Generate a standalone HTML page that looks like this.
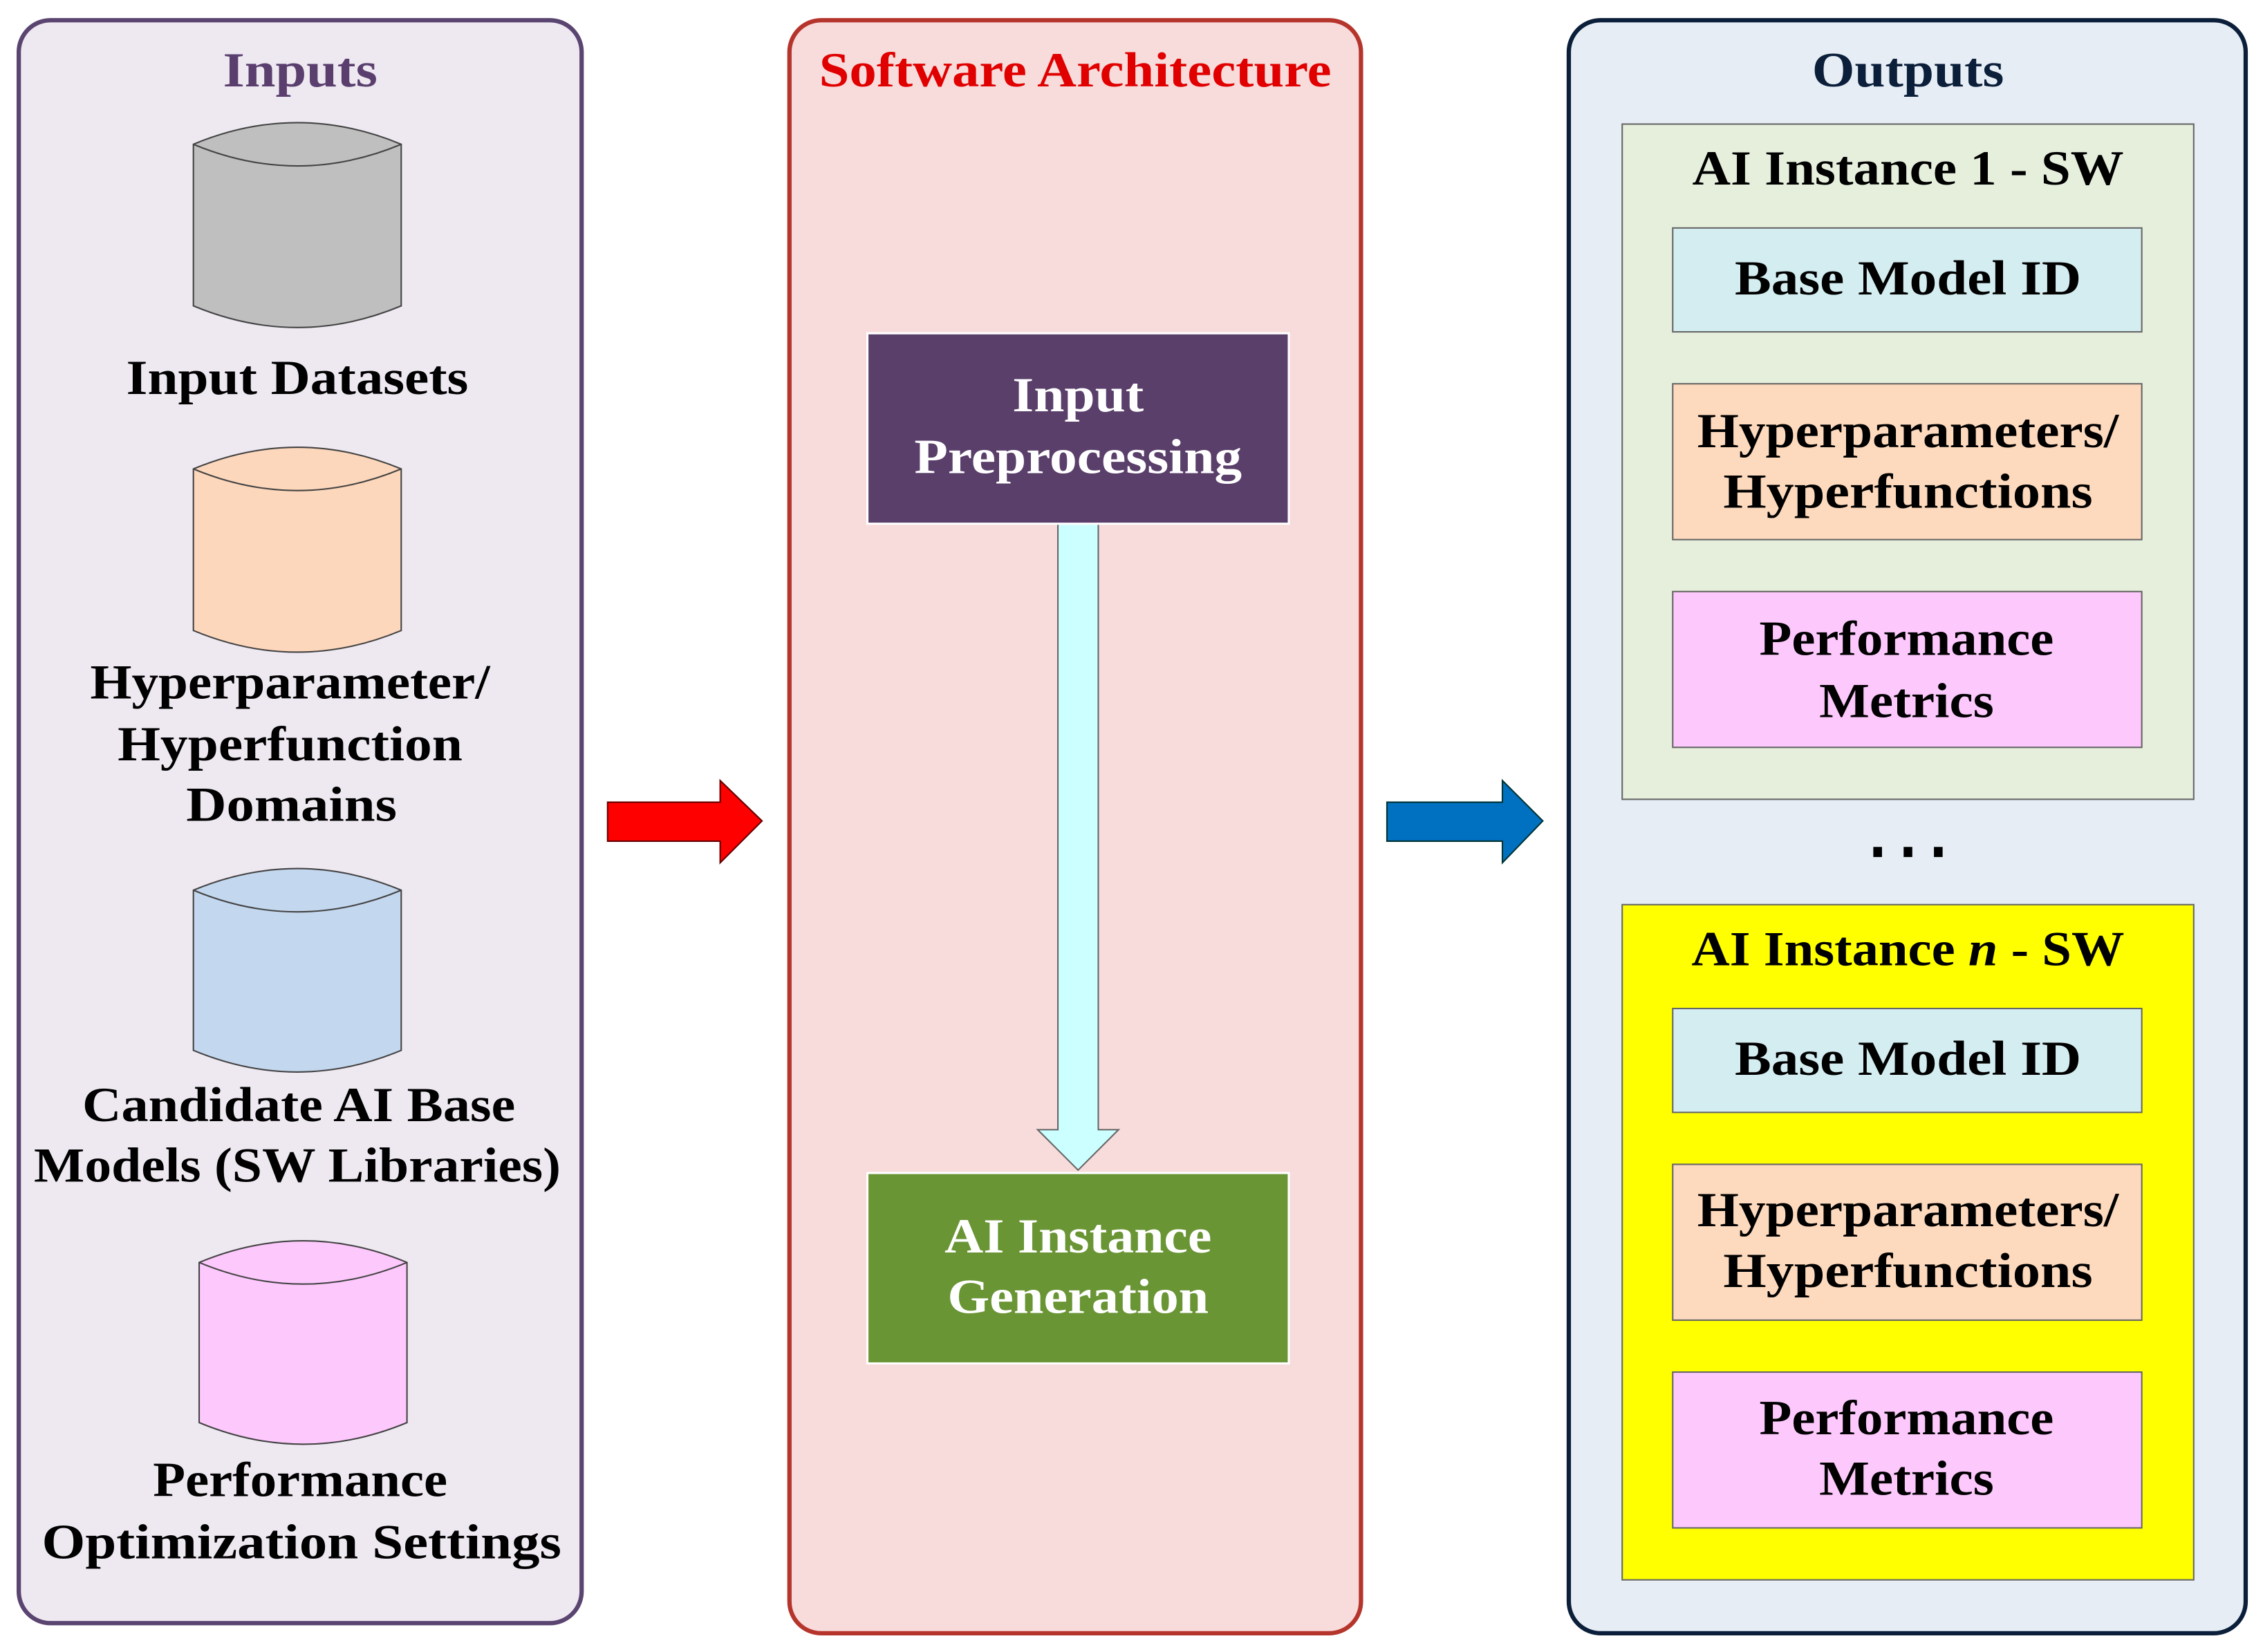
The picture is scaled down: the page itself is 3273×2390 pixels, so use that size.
<!DOCTYPE html>
<html><head><meta charset="utf-8"><style>
html,body{margin:0;padding:0;background:#fff;}
svg{display:block;}
text{font-family:"Liberation Serif",serif;font-weight:bold;font-size:34px;text-anchor:middle;}
</style></head><body>
<svg width="3273" height="2390" viewBox="0 0 1568 1145" preserveAspectRatio="none" xmlns="http://www.w3.org/2000/svg">
<rect width="1568" height="1145" fill="#fff"/>
<rect x="13" y="14" width="390" height="1111" rx="22" fill="#eee8f1" stroke="#5a4470" stroke-width="3"/>
<rect x="547" y="14" width="396" height="1118" rx="22" fill="#f8dbdb" stroke="#b5352d" stroke-width="3"/>
<rect x="1087" y="14" width="469" height="1118" rx="22" fill="#e6edf5" stroke="#0b1f3a" stroke-width="3"/>
<text x="208" y="60" fill="#5a3f6e" textLength="107" lengthAdjust="spacingAndGlyphs">Inputs</text>
<text x="745" y="60" fill="#e00000" textLength="355" lengthAdjust="spacingAndGlyphs">Software Architecture</text>
<text x="1322" y="60" fill="#0b1f3a" textLength="133" lengthAdjust="spacingAndGlyphs">Outputs</text>
<g stroke="#444" stroke-width="1">
<path d="M134,100 Q206,70 278,100 L278,212 Q206,242 134,212 Z" fill="#bfbfbf"/>
<path d="M134,100 Q206,130 278,100" fill="none"/>
<path d="M134,325 Q206,295 278,325 L278,437 Q206,467 134,437 Z" fill="#fdd7bb"/>
<path d="M134,325 Q206,355 278,325" fill="none"/>
<path d="M134,617 Q206,587 278,617 L278,728 Q206,758 134,728 Z" fill="#c3d7ee"/>
<path d="M134,617 Q206,647 278,617" fill="none"/>
<path d="M138,875 Q210,845 282,875 L282,986 Q210,1016 138,986 Z" fill="#fdc8fc"/>
<path d="M138,875 Q210,905 282,875" fill="none"/>
</g>
<g fill="#000">
<text x="206" y="273" textLength="237" lengthAdjust="spacingAndGlyphs">Input Datasets</text>
<text x="201" y="484" textLength="277" lengthAdjust="spacingAndGlyphs">Hyperparameter/</text>
<text x="201" y="527" textLength="239" lengthAdjust="spacingAndGlyphs">Hyperfunction</text>
<text x="202" y="569" textLength="146" lengthAdjust="spacingAndGlyphs">Domains</text>
<text x="207" y="777" textLength="300" lengthAdjust="spacingAndGlyphs">Candidate AI Base</text>
<text x="206" y="819" textLength="365" lengthAdjust="spacingAndGlyphs">Models (SW Libraries)</text>
<text x="208" y="1037" textLength="204" lengthAdjust="spacingAndGlyphs">Performance</text>
<text x="209" y="1080" textLength="360" lengthAdjust="spacingAndGlyphs">Optimization Settings</text>
</g>
<path d="M421,556 L499,556 L499,541 L528,569 L499,598 L499,583 L421,583 Z" fill="#ff0000" stroke="#600" stroke-width="1"/>
<path d="M961,556 L1041,556 L1041,541 L1069,569 L1041,598 L1041,583 L961,583 Z" fill="#0070c0" stroke="#033" stroke-width="1"/>
<path d="M733,363 L761,363 L761,783 L775,783 L747,811 L719,783 L733,783 Z" fill="#ccffff" stroke="#666" stroke-width="1"/>
<rect x="601" y="231" width="292" height="132" fill="#5a3f6b" stroke="#fff" stroke-width="1.5"/>
<text x="747" y="285" fill="#fff" textLength="91" lengthAdjust="spacingAndGlyphs">Input</text>
<text x="747" y="328" fill="#fff" textLength="227" lengthAdjust="spacingAndGlyphs">Preprocessing</text>
<rect x="601" y="813" width="292" height="132" fill="#6a9535" stroke="#fff" stroke-width="1.5"/>
<text x="747" y="868" fill="#fff" textLength="185" lengthAdjust="spacingAndGlyphs">AI Instance</text>
<text x="747" y="910" fill="#fff" textLength="181" lengthAdjust="spacingAndGlyphs">Generation</text>
<g stroke="#666" stroke-width="1">
<rect x="1124" y="86" width="396" height="468" fill="#e6efdc"/>
<rect x="1159" y="158" width="325" height="72" fill="#d3edf1"/>
<rect x="1159" y="266" width="325" height="108" fill="#fdd9bd"/>
<rect x="1159" y="410" width="325" height="108" fill="#fdc8fc"/>
<rect x="1124" y="627" width="396" height="468" fill="#ffff00"/>
<rect x="1159" y="699" width="325" height="72" fill="#d3edf1"/>
<rect x="1159" y="807" width="325" height="108" fill="#fdd9bd"/>
<rect x="1159" y="951" width="325" height="108" fill="#fdc8fc"/>
</g>
<g fill="#000">
<text x="1322" y="128" textLength="299" lengthAdjust="spacingAndGlyphs">AI Instance 1 - SW</text>
<text x="1322" y="204" textLength="240" lengthAdjust="spacingAndGlyphs">Base Model ID</text>
<text x="1322" y="310" textLength="292" lengthAdjust="spacingAndGlyphs">Hyperparameters/</text>
<text x="1322" y="352" textLength="256" lengthAdjust="spacingAndGlyphs">Hyperfunctions</text>
<text x="1321" y="454" textLength="204" lengthAdjust="spacingAndGlyphs">Performance</text>
<text x="1321" y="497" textLength="121" lengthAdjust="spacingAndGlyphs">Metrics</text>
<text x="1322" y="669" textLength="300" lengthAdjust="spacingAndGlyphs">AI Instance <tspan font-style="italic">n</tspan> - SW</text>
<text x="1322" y="745" textLength="240" lengthAdjust="spacingAndGlyphs">Base Model ID</text>
<text x="1322" y="850" textLength="292" lengthAdjust="spacingAndGlyphs">Hyperparameters/</text>
<text x="1322" y="892" textLength="256" lengthAdjust="spacingAndGlyphs">Hyperfunctions</text>
<text x="1321" y="994" textLength="204" lengthAdjust="spacingAndGlyphs">Performance</text>
<text x="1321" y="1036" textLength="121" lengthAdjust="spacingAndGlyphs">Metrics</text>
<rect x="1298" y="587" width="6" height="7"/>
<rect x="1319" y="587" width="6" height="7"/>
<rect x="1340" y="587" width="6" height="7"/>
</g>
</svg>
</body></html>
